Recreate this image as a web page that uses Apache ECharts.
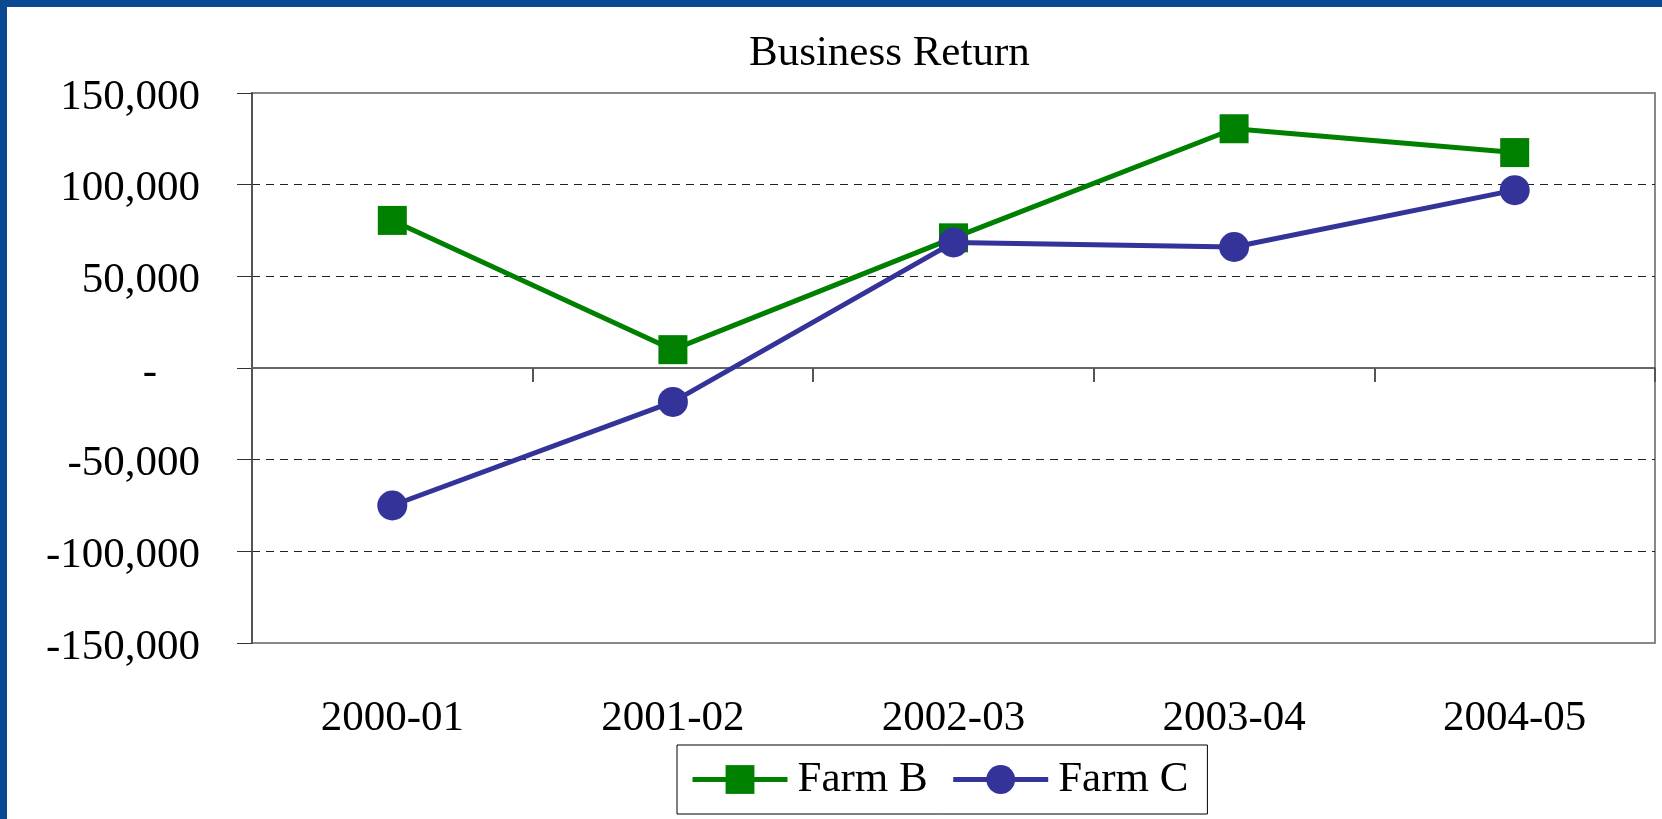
<!DOCTYPE html>
<html>
<head>
<meta charset="utf-8">
<title>Business Return</title>
<script src="https://cdn.jsdelivr.net/npm/echarts@6/dist/echarts.min.js"></script>
<style>
    html, body { margin: 0; padding: 0; background: #fff; }
    #frame {
        width: 1662px;
        height: 819px;
        box-sizing: border-box;
        border-top: 7px solid #0b4a92;
        border-left: 7px solid #0b4a92;
        background: #fff;
    }
    #chart { width: 1655px; height: 812px; }
</style>
</head>
<body>
<div id="frame"><div id="chart"></div></div>
<script>
const years = ['2000-01', '2001-02', '2002-03', '2003-04', '2004-05'];
const farmB = [80500, 10000, 71000, 130500, 117500];
const farmC = [-75000, -18500, 68500, 66000, 97000];
const yTicks = [-150000, -100000, -50000, 0, 50000, 100000, 150000];

const FONT = '"Liberation Serif", "Times New Roman", serif';

function fmtY(v) {
    // accounting style: zero shows as a dash
    if (v === 0) return '-\u00a0\u00a0\u00a0\u00a0';
    return v.toLocaleString('en-US');
}

const myChart = echarts.init(document.getElementById('chart'));

const option = {
    animation: false,
    backgroundColor: '#fff',
    title: {
        text: 'Business Return',
        left: 737,
        top: 20,
        textStyle: { fontFamily: FONT, fontSize: 43, fontWeight: 'normal', color: '#000' }
    },
    legend: {
        data: ['Farm B', 'Farm C'],
        left: 670,
        top: 738,
        padding: [13, 19, 13, 13],
        itemWidth: 95,
        itemHeight: 36,
        itemGap: 23,
        backgroundColor: '#fff',
        borderColor: '#000',
        borderWidth: 1,
        lineStyle: { width: 5 },
        textStyle: { fontFamily: FONT, fontSize: 43, color: '#000', padding: [0, 0, 0, 5] }
    },
    grid: {
        left: 245,
        right: 7,
        top: 86,
        bottom: 176,
        show: true,
        borderColor: '#888',
        borderWidth: 2
    },
    xAxis: [
        {
            // axis line through zero with ticks between categories
            type: 'category',
            data: years,
            position: 'bottom',
            axisLine: { onZero: true, lineStyle: { color: '#666', width: 2 } },
            axisTick: { show: true, length: 14, lineStyle: { color: '#555', width: 2 } },
            axisLabel: { show: false },
            splitLine: { show: false }
        },
        {
            // category labels below the plot
            type: 'category',
            data: years,
            position: 'bottom',
            axisLine: { show: false, onZero: false },
            axisTick: { show: false },
            axisLabel: { margin: 54, fontFamily: FONT, fontSize: 43, color: '#000' }
        }
    ],
    yAxis: {
        type: 'value',
        min: yTicks[0],
        max: yTicks[yTicks.length - 1],
        interval: 50000,
        axisLine: { show: true, lineStyle: { color: '#555', width: 2 } },
        axisTick: { show: true, length: 15, lineStyle: { color: '#333', width: 1 } },
        axisLabel: {
            margin: 52,
            verticalAlign: 'top',
            lineHeight: 9,
            fontFamily: FONT,
            fontSize: 43,
            color: '#000',
            formatter: fmtY
        },
        splitLine: {
            show: true,
            showMinLine: false,
            showMaxLine: false,
            lineStyle: { color: '#222', width: 1, type: [8, 6] }
        }
    },
    series: [
        {
            name: 'Farm B',
            type: 'line',
            xAxisIndex: 0,
            data: farmB,
            symbol: 'rect',
            symbolSize: 29,
            lineStyle: { color: '#008000', width: 5 },
            itemStyle: { color: '#008000' },
            z: 3
        },
        {
            name: 'Farm C',
            type: 'line',
            xAxisIndex: 0,
            data: farmC,
            symbol: 'circle',
            symbolSize: 30,
            lineStyle: { color: '#333399', width: 5 },
            itemStyle: { color: '#333399' },
            z: 4
        }
    ]
};

option && myChart.setOption(option);
</script>
</body>
</html>
